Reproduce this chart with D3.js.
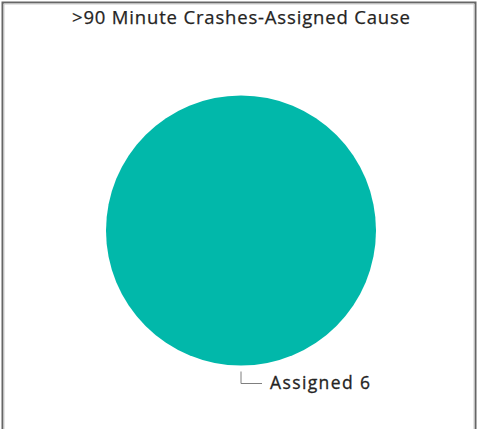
<!DOCTYPE html>
<html><head><meta charset="utf-8">
<script src="https://cdn.jsdelivr.net/npm/d3@7"></script>
<style>html,body{margin:0;padding:0;background:#fff;}svg{display:block;}</style>
</head><body>
<svg id="chart" width="479" height="429"></svg>
<script>
const categories = ["Assigned"];
const values = [6];
const colors = ["#01B8AA"];
const title = ">90 Minute Crashes-Assigned Cause";

const svg = d3.select("#chart");
const W = 479, H = 429;
// frame
svg.append("path").attr("d", `M2.5,${H} V2.5 H475.5 V${H}`)
  .attr("fill","none").attr("stroke","#666").attr("stroke-width",2);
svg.append("path").attr("d", `M4,${H} V4 H474 V${H}`)
  .attr("fill","none").attr("stroke","#ccc").attr("stroke-width",1);

svg.append("text").attr("x",241).attr("y",24).attr("text-anchor","middle")
  .attr("font-family","'Open Sans', sans-serif").attr("font-size",18.5)
  .attr("textLength",338).attr("lengthAdjust","spacing")
  .attr("fill","#252423").attr("stroke","#252423").attr("stroke-width",0.25)
  .text(title);

const cx = 241, cy = 230.5, r = 135;
const pie = d3.pie().sort(null)(values);
const arc = d3.arc().innerRadius(0).outerRadius(r);
const g = svg.append("g").attr("transform",`translate(${cx},${cy})`);
g.selectAll("path.slice").data(pie).join("path").attr("class","slice")
  .attr("d",arc).attr("fill",(d,i)=>colors[i]);

// label with leader line
pie.forEach((d,i)=>{
  const mid = (d.startAngle+d.endAngle)/2; // pi -> bottom
  const p0 = [Math.sin(mid)*(r+6), -Math.cos(mid)*(r+6)];
  const p1 = [Math.sin(mid)*(r+18), -Math.cos(mid)*(r+18)];
  g.append("path").attr("d",`M${p0[0]},${p0[1]} L${p1[0]},${p1[1]} L${p1[0]+21},${p1[1]}`)
    .attr("fill","none").attr("stroke","#7f7f7f").attr("stroke-width",1);
  g.append("text").attr("x",p1[0]+29).attr("y",p1[1]+5)
    .attr("font-family","'Open Sans', sans-serif").attr("font-size",17.5)
    .attr("textLength",100).attr("lengthAdjust","spacing")
    .attr("fill","#252423").attr("stroke","#252423").attr("stroke-width",0.3)
    .text(`${categories[i]} ${values[i]}`);
});
</script>
</body></html>
